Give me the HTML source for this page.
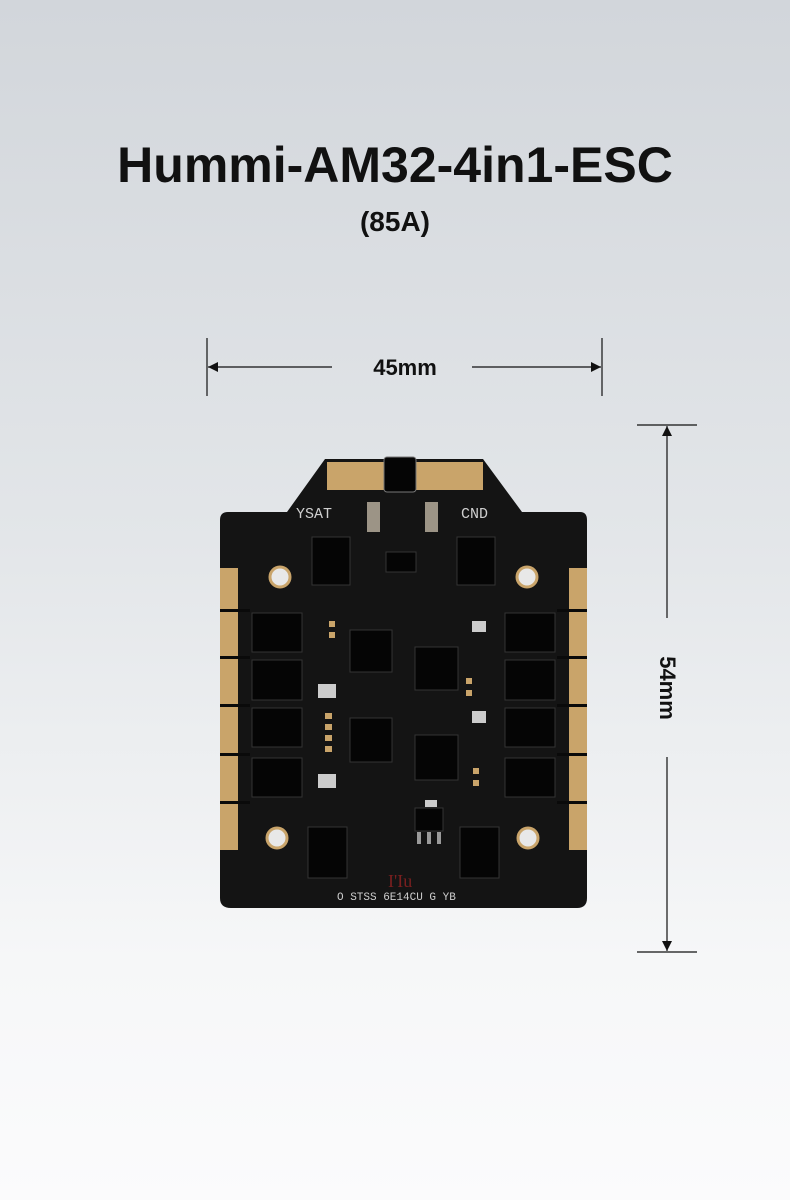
<!DOCTYPE html><html><head><style>
html,body{margin:0;padding:0}
body{width:790px;height:1200px;overflow:hidden;background:linear-gradient(180deg,#d2d6db 0%,#e3e6e9 45%,#f6f7f8 80%,#fbfbfc 100%);font-family:"Liberation Sans",sans-serif;position:relative}
.t{position:absolute;left:0;width:790px;text-align:center;font-weight:bold;color:#111}
</style></head><body>
<div class="t" style="top:136px;font-size:50px;letter-spacing:0px">Hummi-AM32-4in1-ESC</div>
<div class="t" style="top:206px;font-size:28px">(85A)</div>
<svg width="790" height="1200" style="position:absolute;left:0;top:0">
<g stroke="#111" stroke-width="1.2" fill="#111">
<line x1="207" y1="338" x2="207" y2="396"/><line x1="602" y1="338" x2="602" y2="396"/>
<line x1="208" y1="367" x2="332" y2="367"/><line x1="472" y1="367" x2="601" y2="367"/>
<polygon points="208,367 218,362 218,372" stroke="none"/><polygon points="601,367 591,362 591,372" stroke="none"/>
<line x1="637" y1="425" x2="697" y2="425"/><line x1="637" y1="952" x2="697" y2="952"/>
<line x1="667" y1="426" x2="667" y2="618"/><line x1="667" y1="757" x2="667" y2="951"/>
<polygon points="667,426 662,436 672,436" stroke="none"/><polygon points="667,951 662,941 672,941" stroke="none"/>
</g>
<text x="405" y="375" font-size="22" font-weight="bold" text-anchor="middle" fill="#111" font-family="Liberation Sans">45mm</text>
<text x="0" y="0" font-size="22" font-weight="bold" text-anchor="middle" fill="#111" font-family="Liberation Sans" transform="translate(660,688) rotate(90)">54mm</text>
<!-- board -->
<path d="M325,459 L483,459 L522,512 L580,512 Q587,512 587,520 L587,898 Q587,908 577,908 L231,908 Q220,908 220,898 L220,520 Q220,512 228,512 L287,512 Z" fill="#141414"/>
<rect x="327" y="462" width="156" height="28" fill="#c9a46a"/>
<rect x="220" y="568" width="18" height="282" fill="#c9a46a"/>
<rect x="569" y="568" width="18" height="282" fill="#c9a46a"/>
<g fill="#0a0a0a"><rect x="220" y="609" width="30" height="3"/><rect x="220" y="656" width="30" height="3"/><rect x="220" y="704" width="30" height="3"/><rect x="220" y="753" width="30" height="3"/><rect x="220" y="801" width="30" height="3"/>
<rect x="557" y="609" width="30" height="3"/><rect x="557" y="656" width="30" height="3"/><rect x="557" y="704" width="30" height="3"/><rect x="557" y="753" width="30" height="3"/><rect x="557" y="801" width="30" height="3"/></g>
<rect x="384" y="457" width="32" height="35" rx="3" fill="#050505" stroke="#777" stroke-width="1"/>
<rect x="367" y="502" width="13" height="30" fill="#9c9486"/><rect x="425" y="502" width="13" height="30" fill="#9c9486"/>
<g fill="#cfcfcf" font-family="Liberation Mono" font-size="15"><text x="296" y="518">YSAT</text><text x="461" y="518">CND</text>
<text x="337" y="900" font-size="11">O STSS 6E14CU G YB</text></g>
<g fill="#e8e8e8" stroke="#c9a46a" stroke-width="3"><circle cx="280" cy="577" r="10"/><circle cx="527" cy="577" r="10"/><circle cx="277" cy="838" r="10"/><circle cx="528" cy="838" r="10"/></g>
<g fill="#050505" stroke="#333" stroke-width="1">
<rect x="312" y="537" width="38" height="48"/><rect x="457" y="537" width="38" height="48"/>
<rect x="308" y="827" width="39" height="51"/><rect x="460" y="827" width="39" height="51"/>
<rect x="252" y="613" width="50" height="39"/><rect x="252" y="660" width="50" height="40"/><rect x="252" y="708" width="50" height="39"/><rect x="252" y="758" width="50" height="39"/>
<rect x="505" y="613" width="50" height="39"/><rect x="505" y="660" width="50" height="40"/><rect x="505" y="708" width="50" height="39"/><rect x="505" y="758" width="50" height="39"/>
<rect x="350" y="630" width="42" height="42"/><rect x="415" y="647" width="43" height="43"/><rect x="350" y="718" width="42" height="44"/><rect x="415" y="735" width="43" height="45"/>
<rect x="415" y="808" width="28" height="23"/><rect x="386" y="552" width="30" height="20"/>
</g>
<g fill="#c9a46a"><rect x="329" y="621" width="6" height="6"/><rect x="329" y="632" width="6" height="6"/><rect x="466" y="678" width="6" height="6"/><rect x="466" y="690" width="6" height="6"/>
<rect x="325" y="713" width="7" height="6"/><rect x="325" y="724" width="7" height="6"/><rect x="325" y="735" width="7" height="6"/><rect x="325" y="746" width="7" height="6"/>
<rect x="473" y="768" width="6" height="6"/><rect x="473" y="780" width="6" height="6"/></g>
<g fill="#ccc"><rect x="318" y="684" width="18" height="14"/><rect x="318" y="774" width="18" height="14"/><rect x="472" y="621" width="14" height="11"/><rect x="472" y="711" width="14" height="12"/><rect x="425" y="800" width="12" height="7"/></g>
<g fill="#9a9a9a"><rect x="417" y="832" width="4" height="12"/><rect x="427" y="832" width="4" height="12"/><rect x="437" y="832" width="4" height="12"/></g>
<text x="388" y="887" font-size="18" fill="#7a1f1f" font-family="Liberation Serif">I'Iu</text>
</svg>
</body></html>
